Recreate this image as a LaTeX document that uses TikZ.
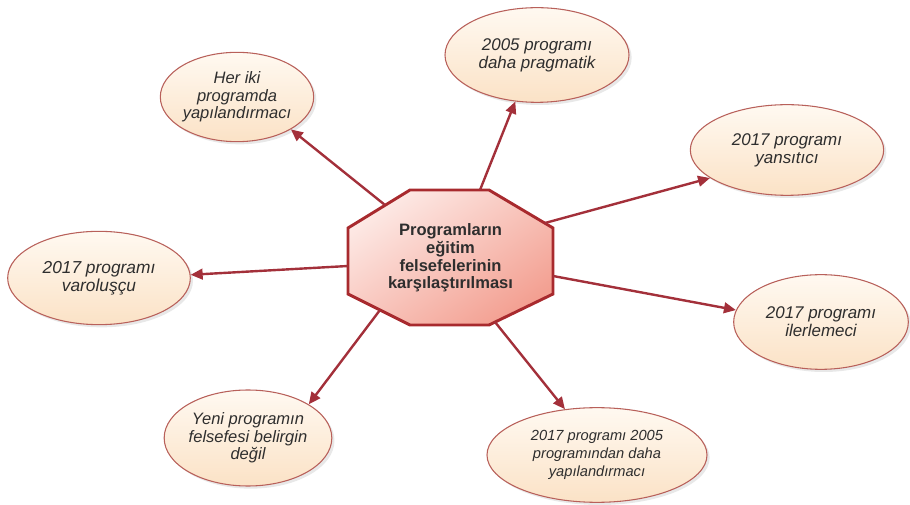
\documentclass[tikz,border=0pt]{standalone}
\usepackage{fontspec}
\setmainfont{Liberation Sans}
\usetikzlibrary{shapes.geometric,arrows.meta,shadows}
\definecolor{edgered}{HTML}{A3303A}
\definecolor{ellline}{HTML}{B8605A}
\definecolor{elltop}{HTML}{FFF9F1}
\definecolor{ellbot}{HTML}{FBE2C6}
\definecolor{octA}{HTML}{FDE9E5}
\definecolor{octB}{HTML}{F3A092}
\definecolor{octline}{HTML}{A82A2E}
\definecolor{txt}{HTML}{2E2E2E}
\tikzset{
  idea/.style={ellipse, draw=ellline, line width=0.8pt, top color=elltop, bottom color=ellbot,
    inner sep=0pt, align=center, font=\itshape\fontsize{12.4}{13.2}\selectfont, text=txt,
    drop shadow={opacity=0.18, shadow xshift=2pt, shadow yshift=-2pt}},
  hubshape/.style={draw=octline, line width=2.2pt, line join=miter,
    top color=octA, bottom color=octB, shading angle=35},
  hub/.style={align=center, inner sep=0pt, font=\bfseries\fontsize{12.4}{13.2}\selectfont, text=txt},
  link/.style={draw=edgered, line width=1.8pt, -{Triangle[length=9pt,width=8pt]}}
}
\begin{document}
\begin{tikzpicture}[x=0.75pt,y=-0.75pt]
\useasboundingbox (0,0) rectangle (910,505);
\path[hubshape] (410,190) -- (489,190) -- (553,228) -- (553,294) -- (489,325) -- (410,325) -- (348,294) -- (348,228) -- cycle;
\node[hub] (c) at (450.5,258) {Programların\\eğitim\\felsefelerinin\\karşılaştırılması};
\coordinate (s1) at (385,205);
\coordinate (s2) at (480,190);
\coordinate (s3) at (545,223);
\coordinate (s4) at (348,266);
\coordinate (s5) at (553,276);
\coordinate (s6) at (380,310);
\coordinate (s7) at (495,322);
\node[idea, minimum width=111pt, minimum height=67pt] (e1) at (237,97) {Her iki\\programda\\yapılandırmacı};
\node[idea, minimum width=138pt, minimum height=71pt, font=\itshape\fontsize{12.7}{13.5}\selectfont] (e2) at (537,55) {2005 programı\\daha pragmatik};
\node[idea, minimum width=145pt, minimum height=68pt, font=\itshape\fontsize{12.7}{13.5}\selectfont] (e3) at (787,150) {2017 programı\\yansıtıcı};
\node[idea, minimum width=137pt, minimum height=70pt, font=\itshape\fontsize{13}{13.8}\selectfont] (e4) at (99,278) {2017 programı\\varoluşçu};
\node[idea, minimum width=131pt, minimum height=71pt, font=\itshape\fontsize{12.7}{13.5}\selectfont] (e5) at (821,322) {2017 programı\\ilerlemeci};
\node[idea, minimum width=124pt, minimum height=72pt] (e6) at (248,438) {Yeni programın\\felsefesi belirgin\\değil};
\node[idea, minimum width=165pt, minimum height=71pt, font=\itshape\fontsize{11}{13.3}\selectfont] (e7) at (597,455) {2017 programı 2005\\programından daha\\yapılandırmacı};
\draw[link] (s1) -- (e1.-31);
\draw[link] (s2) -- (e2.-115);
\draw[link] (s3) -- (e3.200);
\draw[link] (s4) -- (e4.2);
\draw[link] (s5) -- (e5.172);
\draw[link] (s6) -- (e6.29);
\draw[link] (s7) -- (e7.125);
\end{tikzpicture}
\end{document}
